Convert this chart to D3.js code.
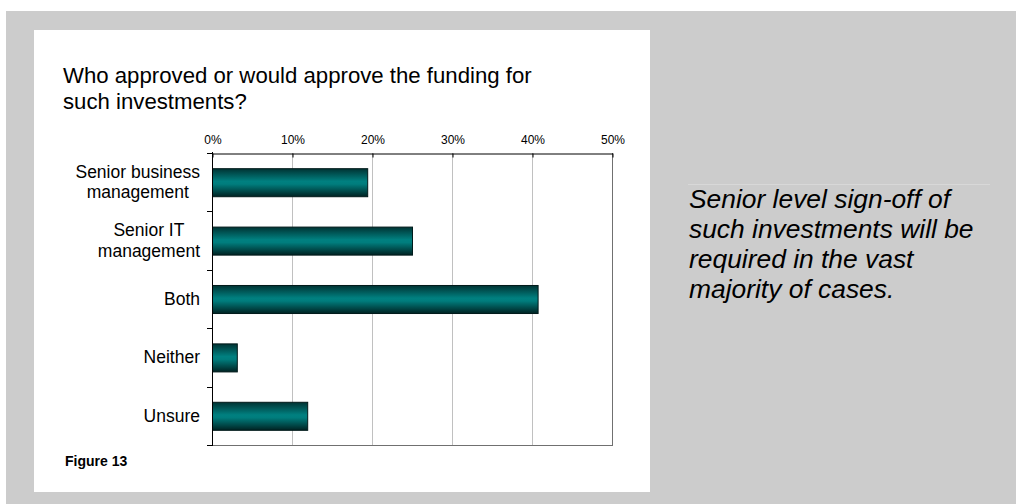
<!DOCTYPE html>
<html>
<head>
<meta charset="utf-8">
<script src="https://cdn.jsdelivr.net/npm/d3@7"></script>
<style>
  html, body { margin: 0; padding: 0; background: #ffffff; }
  svg { display: block; }
  text { font-family: "Liberation Sans", Arial, sans-serif; }
</style>
</head>
<body>
<svg id="chart" width="1016" height="504"></svg>
<script>
// Survey answers: share of respondents per approver
const categories = [
  ["Senior business", "management"],
  ["Senior IT", "management"],
  ["Both"],
  ["Neither"],
  ["Unsure"]
];
const values = [19.4, 25.0, 40.7, 3.1, 11.9];
const tickValues = [0, 10, 20, 30, 40, 50];
const titleLines = ["Who approved or would approve the funding for", "such investments?"];
const noteLines = ["Senior level sign-off of", "such investments will be", "required in the vast", "majority of cases."];
const figureLabel = "Figure 13";

const svg = d3.select("#chart");

// grey page band and white card
svg.append("rect").attr("x", 6).attr("y", 11).attr("width", 1010).attr("height", 493).attr("fill", "#cccccc");
svg.append("rect").attr("x", 34).attr("y", 30).attr("width", 616).attr("height", 462).attr("fill", "#ffffff");

// bar gradient: dark edges, teal centre
const defs = svg.append("defs");
const grad = defs.append("linearGradient").attr("id", "barGrad")
  .attr("x1", 0).attr("y1", 0).attr("x2", 0).attr("y2", 1);
grad.append("stop").attr("offset", "0%").attr("stop-color", "#003333");
grad.append("stop").attr("offset", "45%").attr("stop-color", "#008080");
grad.append("stop").attr("offset", "55%").attr("stop-color", "#007d7d");
grad.append("stop").attr("offset", "100%").attr("stop-color", "#002222");

// title
svg.append("text").attr("font-size", 22.2).attr("fill", "#000")
  .selectAll("tspan").data(titleLines).join("tspan")
  .attr("x", 63).attr("y", (d, i) => 83 + i * 26).text(d => d);

// plot area
const plotLeft = 212, plotRight = 612, plotTop = 153, plotBottom = 445;
const x = d3.scaleLinear().domain([0, 50]).range([plotLeft, plotRight]);
const y = d3.scaleBand().domain(d3.range(categories.length)).range([plotTop, plotBottom]).paddingInner(0.52).paddingOuter(0.26);
const yb = d3.scaleBand().domain(d3.range(categories.length)).range([plotTop, plotBottom]);

// vertical gridlines
svg.append("g").selectAll("line").data(tickValues.slice(1, -1)).join("line")
  .attr("x1", d => x(d) + 0.5).attr("x2", d => x(d) + 0.5)
  .attr("y1", plotTop).attr("y2", plotBottom)
  .attr("stroke", "#c0c0c0").attr("stroke-width", 1);

// frame: right and bottom in grey
svg.append("line").attr("x1", plotRight + 0.5).attr("x2", plotRight + 0.5).attr("y1", plotTop).attr("y2", plotBottom)
  .attr("stroke", "#707070");
svg.append("line").attr("x1", plotLeft).attr("x2", plotRight + 1).attr("y1", plotBottom + 0.5).attr("y2", plotBottom + 0.5)
  .attr("stroke", "#707070");

// bars
svg.append("g").selectAll("rect").data(values).join("rect")
  .attr("x", plotLeft + 0.5)
  .attr("y", (d, i) => y(i) + 0.5)
  .attr("width", d => x(d) - plotLeft)
  .attr("height", y.bandwidth())
  .attr("fill", "url(#barGrad)")
  .attr("stroke", "#001a1a").attr("stroke-width", 1);

// top axis, ticks pointing into the plot
const xAxis = d3.axisTop(x).tickValues(tickValues).tickFormat(d => d + "%").tickSize(-4).tickSizeOuter(0);
const gx = svg.append("g").attr("transform", `translate(0.5,${plotTop + 0.5})`).call(xAxis);
gx.select(".domain").attr("stroke", "#000");
gx.selectAll(".tick line").attr("stroke", "#000");
gx.selectAll(".tick text").attr("font-size", 12).attr("fill", "#000")
  .attr("font-family", "'Liberation Sans', Arial, sans-serif").attr("y", -10).attr("dy", 0);

// left axis with ticks at category boundaries
svg.append("line").attr("x1", plotLeft + 0.5).attr("x2", plotLeft + 0.5).attr("y1", plotTop - 1).attr("y2", plotBottom + 1)
  .attr("stroke", "#000");
svg.append("g").selectAll("line").data(d3.range(categories.length + 1)).join("line")
  .attr("x1", plotLeft - 5).attr("x2", plotLeft)
  .attr("y1", i => Math.round(plotTop + i * yb.step()) + 0.5)
  .attr("y2", i => Math.round(plotTop + i * yb.step()) + 0.5)
  .attr("stroke", "#000");

// category labels: each block right-aligned to the axis, lines centred within it
const labelRight = 200;
const lab = svg.append("g").selectAll("text").data(categories).join("text")
  .attr("text-anchor", "middle").attr("font-size", 17.5).attr("fill", "#000");
lab.selectAll("tspan").data(d => d.map((t, j) => ({ t, j, n: d.length }))).join("tspan")
  .attr("y", d => (d.j - (d.n - 1) / 2) * 20.5 + 6)
  .text(d => d.t);
lab.each(function (d, i) {
  const spans = d3.select(this).selectAll("tspan");
  let w = 0;
  spans.each(function () { w = Math.max(w, this.getComputedTextLength()); });
  spans.attr("x", 0);
  d3.select(this).attr("transform", `translate(${labelRight - w / 2},${yb(i) + yb.bandwidth() / 2})`);
});

// figure label
svg.append("text").attr("x", 65).attr("y", 466)
  .attr("font-size", 14).attr("font-weight", "bold").attr("fill", "#000").text(figureLabel);

// side note
svg.append("line").attr("x1", 688).attr("x2", 990).attr("y1", 184.5).attr("y2", 184.5)
  .attr("stroke", "#d8d8d8");
svg.append("text").attr("font-size", 26.4).attr("font-style", "italic").attr("fill", "#000")
  .selectAll("tspan").data(noteLines).join("tspan")
  .attr("x", 689).attr("y", (d, i) => 208 + i * 30).text(d => d);
</script>
</body>
</html>
